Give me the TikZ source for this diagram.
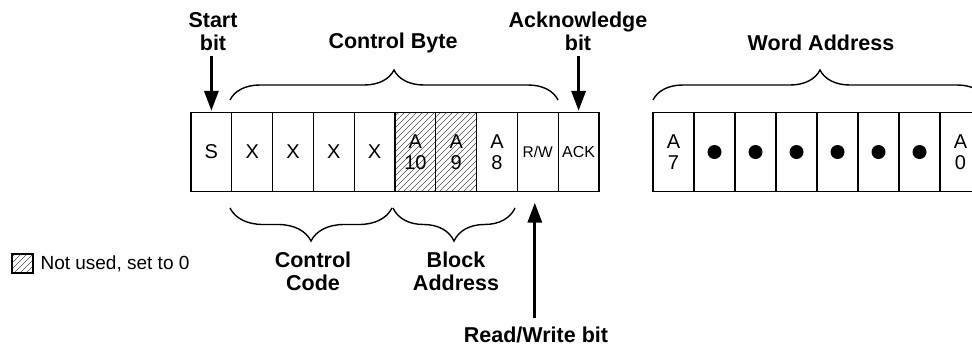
\documentclass[tikz,border=0pt]{standalone}
\usepackage{fontspec}
\setmainfont{Liberation Sans}
\usetikzlibrary{arrows.meta,decorations.pathreplacing}
\begin{document}
\begin{tikzpicture}[x=1pt,y=-1pt,
 cell/.style={draw,line width=1.3pt,minimum width=40.8pt,minimum height=79pt,inner sep=0pt,align=center,font=\fontsize{20}{21.5}\selectfont},
 wcell/.style={cell,minimum width=41pt},
 lbl/.style={align=center,font=\fontsize{21.5}{23}\selectfont\bfseries},
 bigarrow/.style={line width=3.2pt,-{Triangle[length=20pt,width=14pt]}},
 bracestyle/.style={decorate,decoration={brace,amplitude=30pt},line width=1.4pt},
 hatchline/.style={line width=0.6pt,black!70}]
\useasboundingbox (0,0) rectangle (972,346);
\clip (0,0) rectangle (972,346);
% hatching of A10 and A9
\begin{scope}
\clip (395,112.5) rectangle (476.6,191.5);
\foreach \k in {0,6,...,174} \draw[hatchline] (312+\k,193) -- ++(84,-84);
\end{scope}
% left byte
\node[cell] (c0) at (211.4,152) {S};
\node[cell] (c1) at (252.2,152) {X};
\node[cell] (c2) at (293.0,152) {X};
\node[cell] (c3) at (333.8,152) {X};
\node[cell] (c4) at (374.6,152) {X};
\node[cell] (c5) at (415.4,152) {A\\10};
\node[cell] (c6) at (456.2,152) {A\\9};
\node[cell] (c7) at (497.0,152) {A\\8};
\node[cell,font=\fontsize{15.5}{16}\selectfont] (c8) at (537.8,152) {R/W};
\node[cell,font=\fontsize{16}{17}\selectfont] (c9) at (578.6,152) {ACK};
% word address byte
\node[wcell] (w0) at (673.5,152) {A\\7};
\node[wcell] (w1) at (714.5,152) {};
\node[wcell] (w2) at (755.5,152) {};
\node[wcell] (w3) at (796.5,152) {};
\node[wcell] (w4) at (837.5,152) {};
\node[wcell] (w5) at (878.5,152) {};
\node[wcell] (w6) at (919.5,152) {};
\node[wcell] (w7) at (960.5,152) {A\\0};
\foreach \n in {w1,w2,w3,w4,w5,w6} \fill (\n.center) circle[radius=7pt];
% labels
\node[lbl] (startl) at (213,31.5) {Start\\bit};
\node[lbl] (ackl) at (578,31.5) {Acknowledge\\bit};
\node[lbl] (cbl) at (393,43) {Control Byte};
\node[lbl] (wal) at (821,43) {Word Address};
\node[lbl] (ccl) at (313,271) {Control\\Code};
\node[lbl] (bal) at (456,271) {Block\\Address};
\node[lbl] (rwl) at (536,335) {Read/Write bit};
% braces
\coordinate (cbA) at (230,100); \coordinate (cbB) at (558,100);
\coordinate (waA) at (653,100); \coordinate (waB) at (987,100);
\coordinate (ccA) at (392,208); \coordinate (ccB) at (230,208);
\coordinate (baA) at (515,208); \coordinate (baB) at (393,208);
\draw[bracestyle] (cbA) -- (cbB);
\draw[bracestyle] (waA) -- (waB);
\draw[bracestyle,decoration={amplitude=33pt}] (ccA) -- (ccB);
\draw[bracestyle,decoration={amplitude=33pt}] (baA) -- (baB);
% arrows
\draw[bigarrow,shorten >=1pt] ([yshift=56pt]c0.north) -- (c0.north);
\draw[bigarrow,shorten >=1pt] ([yshift=56pt]c9.north) -- (c9.north);
\draw[bigarrow] ([yshift=-125.5pt,xshift=-3pt]c8.south) -- ([yshift=-10.5pt,xshift=-3pt]c8.south);
% legend
\begin{scope}
\clip (12,254) rectangle (33,273);
\foreach \k in {0,6,...,42} \draw[hatchline] (-12+\k,275) -- ++(25,-25);
\end{scope}
\node[draw,line width=1.8pt,minimum width=21pt,minimum height=19pt,inner sep=0pt] (leg) at (22.5,263.5) {};
\node[anchor=west,font=\fontsize{19}{20}\selectfont] (legt) at (37,264) {Not used, set to 0};
\end{tikzpicture}
\end{document}
